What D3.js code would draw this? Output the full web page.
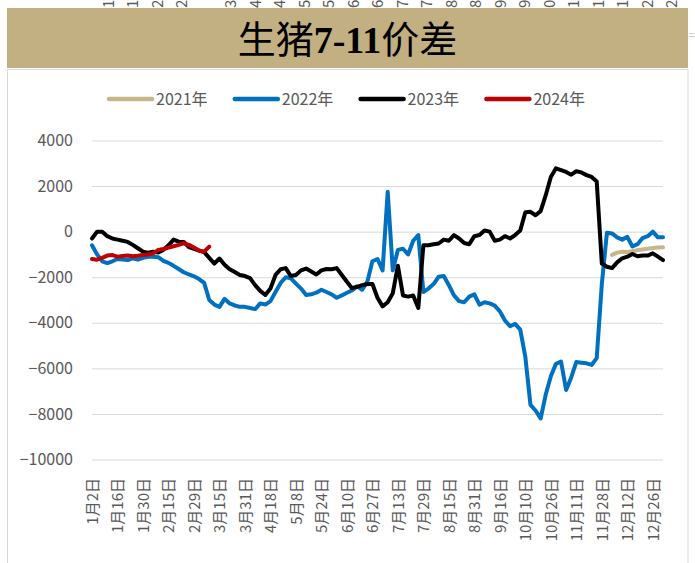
<!DOCTYPE html>
<html>
<head>
<meta charset="utf-8">
<script src="https://cdn.jsdelivr.net/npm/d3@7"></script>
<style>
  body { margin: 0; background: #fff; }
  svg { display: block; }
</style>
</head>
<body>
<div class="chart"></div>
<script>
// categories: trading days, labelled every 10th one
const nCats = 225;
const xStep = 2;
const xTickEvery = 10;
const xTickLabels = ['1月2日', '1月16日', '1月30日', '2月15日', '2月29日', '3月15日', '3月31日',
  '4月18日', '5月8日', '5月24日', '6月10日', '6月27日', '7月13日', '7月29日', '8月15日',
  '8月31日', '9月16日', '10月10日', '10月26日', '11月11日', '11月28日', '12月12日', '12月26日'];
const yTicks = [4000, 2000, 0, -2000, -4000, -6000, -8000, -10000];

// cut-off labels of the sheet above (only their first digit shows)
const topStripDigits = ['1', '1', '2', '2', '', '3', '4', '4', '5', '5', '6', '6', '7', '7',
  '8', '8', '9', '9', '0', '1', '1', '1', '2', '2'];

const seriesNames = ['2021年', '2022年', '2023年', '2024年'];
const seriesColors = ['#C8B68B', '#0070C0', '#000000', '#C00000'];

// values every xStep categories, from the start index
const start2021 = 204;
const values2021 = [-1020, -920, -880, -890, -860, -810, -780, -750, -720, -700, -690];

const start2022 = 0;
const values2022 = [-600, -1000, -1300, -1380, -1300, -1200, -1220, -1250, -1170, -1230,
  -1150, -1100, -1100, -1120, -1280, -1370, -1500, -1640, -1780, -1880,
  -1960, -2080, -2250, -3000, -3200, -3300, -2950, -3150, -3240, -3300,
  -3300, -3350, -3400, -3150, -3200, -3050, -2650, -2250, -2000, -2050,
  -2280, -2500, -2780, -2750, -2680, -2550, -2650, -2750, -2900, -2800,
  -2680, -2580, -2400, -2550, -2200, -1300, -1200, -1700, 1750, -1700,
  -800, -750, -1000, -400, -150, -2650, -2500, -2300, -1980, -1950,
  -2350, -2800, -3050, -3100, -2850, -2750, -3200, -3100, -3150, -3250,
  -3500, -3900, -4150, -4050, -4300, -5500, -7600, -7850, -8200, -7150,
  -6350, -5800, -5700, -6950, -6400, -5720, -5750, -5780, -5850, -5550,
  -2300, -50, -80, -250, -350, -230, -650, -550, -280, -200,
  0, -250, -250];

const start2023 = 0;
const values2023 = [-300, 0, 0, -200, -300, -350, -400, -450, -580, -730,
  -880, -920, -880, -920, -800, -600, -350, -440, -450, -680,
  -760, -830, -900, -1150, -1400, -1180, -1450, -1650, -1770, -1900,
  -1950, -2040, -2350, -2600, -2780, -2500, -1900, -1650, -1600, -1950,
  -1900, -1700, -1620, -1750, -1880, -1700, -1640, -1650, -1600, -1900,
  -2200, -2480, -2420, -2350, -2300, -2300, -2900, -3280, -3100, -2700,
  -1500, -2800, -2850, -2800, -3350, -600, -600, -550, -520, -350,
  -400, -150, -300, -500, -550, -200, -150, 50, 0, -400,
  -350, -200, -300, -150, 50, 850, 870, 720, 900, 1600,
  2400, 2780, 2700, 2620, 2500, 2650, 2600, 2480, 2400, 2200,
  -1400, -1540, -1600, -1350, -1170, -1100, -980, -1080, -1050, -1050,
  -950, -1100, -1250];

const start2024 = 0;
const values2024 = [-1200, -1230, -1150, -1050, -1030, -1100, -1070, -1050, -1080, -1060,
  -1020, -1000, -950, -800, -760, -700, -640, -580, -510, -580,
  -700, -830, -880, -660];

const w = 695;
const h = 563;
const left = 92;
const right = 663;
const labelColor = '#595959';
const cjk = '"Noto Sans CJK SC", "Noto Sans", sans-serif';

const svg = d3
  .select('.chart')
  .append('svg')
  .attr('width', w)
  .attr('height', h);

// strip of the sheet above
svg
  .append('g')
  .selectAll('text')
  .data(topStripDigits)
  .enter()
  .append('text')
  .attr('transform', (d, i) => `translate(${108.6 + 24.5 * i},8) rotate(-90)`)
  .attr('dy', '0.35em')
  .attr('font-family', cjk)
  .attr('font-size', 15)
  .attr('fill', labelColor)
  .text((d) => d);

svg.append('line').attr('x1', 689).attr('x2', 695).attr('y1', 33.5).attr('y2', 33.5).attr('stroke', '#d0d0d0');
svg.append('line').attr('x1', 689).attr('x2', 695).attr('y1', 36.5).attr('y2', 36.5).attr('stroke', '#d0d0d0');

// chart panel
svg
  .append('rect')
  .attr('x', 7.5)
  .attr('y', 69.5)
  .attr('width', 680.5)
  .attr('height', 510)
  .attr('fill', '#fff')
  .attr('stroke', '#d9d9d9');

// title band
svg
  .append('rect')
  .attr('x', 7)
  .attr('y', 8)
  .attr('width', 681)
  .attr('height', 60)
  .attr('fill', '#C2AF82');

const title = svg
  .append('text')
  .attr('x', 347.5)
  .attr('y', 53)
  .attr('text-anchor', 'middle')
  .attr('font-size', 38)
  .attr('fill', '#000');
title.append('tspan').attr('font-family', cjk).attr('font-weight', 400).text('生猪');
title.append('tspan').attr('font-family', '"Liberation Serif", serif').attr('font-weight', 700).text('7-11');
title.append('tspan').attr('font-family', cjk).attr('font-weight', 400).text('价差');

// scales
const xScale = d3.scaleLinear().domain([0, nCats - 1]).range([left, right]);
const yScale = d3.scaleLinear().domain([-10000, 4000]).range([459.5, 140.5]);

// y axis + gridlines
const yAxis = d3
  .axisLeft(yScale)
  .tickValues(yTicks)
  .tickSize(-(right - left))
  .tickPadding(19)
  .tickFormat(d3.format('d'));

const yG = svg.append('g').attr('transform', `translate(${left},0)`).call(yAxis);
yG.select('.domain').remove();
yG.selectAll('line').attr('stroke', '#d9d9d9');
yG.selectAll('text')
  .attr('font-family', cjk)
  .attr('font-size', 16)
  .attr('fill', labelColor);

// x axis labels
const xAxis = d3
  .axisBottom(xScale)
  .tickValues(d3.range(0, nCats, xTickEvery))
  .tickSize(0)
  .tickFormat((d, i) => xTickLabels[i]);

const xG = svg.append('g').attr('transform', 'translate(0,478)').call(xAxis);
xG.select('.domain').remove();
xG.selectAll('text')
  .attr('transform', 'rotate(-90)')
  .attr('x', 0)
  .attr('y', 0)
  .attr('dy', '0.35em')
  .attr('text-anchor', 'end')
  .attr('font-family', cjk)
  .attr('font-size', 15)
  .attr('fill', labelColor);

// series
const toPoints = (start, values) => values.map((v, i) => [start + i * xStep, v]);
const series = [
  toPoints(start2021, values2021),
  toPoints(start2022, values2022),
  toPoints(start2023, values2023),
  toPoints(start2024, values2024)
];

const line = d3
  .line()
  .x((d) => xScale(d[0]))
  .y((d) => yScale(d[1]));

svg
  .append('g')
  .selectAll('path')
  .data(series)
  .enter()
  .append('path')
  .attr('d', line)
  .attr('fill', 'none')
  .attr('stroke', (d, i) => seriesColors[i])
  .attr('stroke-width', 4)
  .attr('stroke-linejoin', 'round')
  .attr('stroke-linecap', 'round');

// legend
const legend = svg
  .append('g')
  .selectAll('g')
  .data(seriesNames)
  .enter()
  .append('g')
  .attr('transform', (d, i) => `translate(${108 + 125.8 * i},99)`);

legend
  .append('line')
  .attr('x1', 1)
  .attr('x2', 44)
  .attr('stroke', (d, i) => seriesColors[i])
  .attr('stroke-width', 4.5)
  .attr('stroke-linecap', 'round');

legend
  .append('text')
  .attr('x', 48)
  .attr('dy', '0.35em')
  .attr('font-family', cjk)
  .attr('font-size', 16)
  .attr('fill', labelColor)
  .text((d) => d);
</script>
</body>
</html>
